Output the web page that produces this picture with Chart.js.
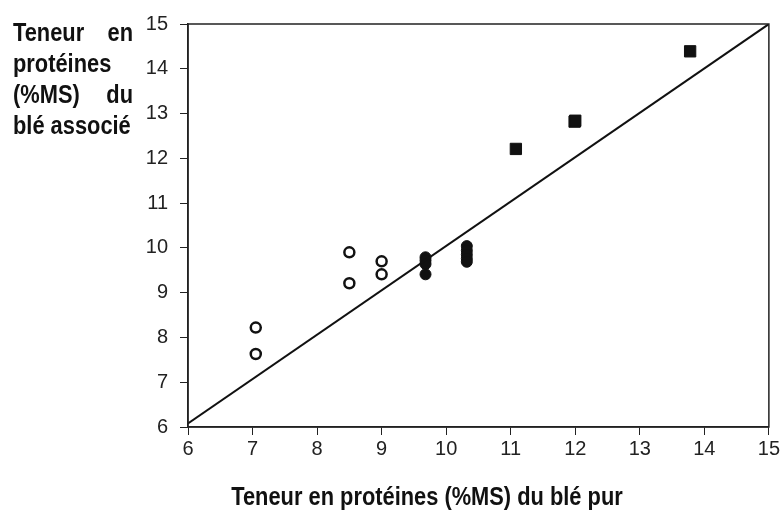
<!DOCTYPE html>
<html>
<head>
<meta charset="utf-8">
<script src="https://cdn.jsdelivr.net/npm/chart.js@4.4.1/dist/chart.umd.min.js"></script>
<style>
  html, body { margin: 0; padding: 0; background: #fff; }
  #wrap { width: 782px; height: 511px; }
</style>
</head>
<body>
<div id="wrap"><canvas id="proteinChart" width="782" height="511"></canvas></div>
<script>
// axis ticks
const xTicks = [6, 7, 8, 9, 10, 11, 12, 13, 14, 15];
const yTicks = [6, 7, 8, 9, 10, 11, 12, 13, 14, 15];

// open circles
const openX = [7.05, 7.05, 8.5, 8.5, 9.0, 9.0];
const openY = [8.22, 7.63, 9.90, 9.21, 9.70, 9.41];

// filled circles
const filledX = [9.68, 9.68, 9.68, 9.68, 10.32, 10.32, 10.32, 10.32, 10.32];
const filledY = [9.79, 9.72, 9.64, 9.41, 10.04, 9.94, 9.85, 9.76, 9.69];

// filled squares
const squareX = [11.08, 11.99, 12.0, 13.78];
const squareY = [12.21, 12.82, 12.84, 14.39];

// reference line
const lineX = [6, 15];
const lineY = [6.08, 15];

const yTitleLines = [['Teneur', 'en'], ['protéines'], ['(%MS)', 'du'], ['blé associé']];
const xTitle = 'Teneur en protéines (%MS) du blé pur';

const toPoints = (xs, ys) => xs.map((x, i) => ({ x: x, y: ys[i] }));

// no narrow font installed, so squeeze the bold one a bit
const titleFont = "bold 26px 'Liberation Sans Narrow', 'Arial Narrow', 'Liberation Sans', sans-serif";
const squeeze = 0.84;

function narrowText(ctx, text, x, y, align) {
  ctx.save();
  ctx.translate(x, y);
  ctx.scale(squeeze, 1);
  ctx.textAlign = align;
  ctx.fillText(text, 0, 0);
  ctx.restore();
}

// frame + axis titles
const decorations = {
  id: 'decorations',
  afterDraw(chart) {
    const ctx = chart.ctx;
    const a = chart.chartArea;
    ctx.save();
    ctx.strokeStyle = '#222';
    ctx.lineWidth = 1.5;
    ctx.strokeRect(a.left, a.top, a.right - a.left, a.bottom - a.top);

    ctx.fillStyle = '#111';
    ctx.font = titleFont;
    ctx.textBaseline = 'alphabetic';
    const left = 13, right = 133;
    const baselines = [41, 72, 103, 134];
    yTitleLines.forEach((words, i) => {
      narrowText(ctx, words[0], left, baselines[i], 'left');
      if (words.length > 1) {
        narrowText(ctx, words[1], right, baselines[i], 'right');
      }
    });

    narrowText(ctx, xTitle, 427, 505, 'center');
    ctx.restore();
  }
};

const ctx = document.getElementById('proteinChart').getContext('2d');
new Chart(ctx, {
  type: 'scatter',
  data: {
    datasets: [
      {
        type: 'line',
        data: toPoints(lineX, lineY),
        borderColor: '#111',
        borderWidth: 2,
        pointRadius: 0,
        fill: false,
      },
      {
        data: toPoints(openX, openY),
        pointStyle: 'circle',
        pointRadius: 5,
        backgroundColor: '#fff',
        borderColor: '#111',
        borderWidth: 2.5,
      },
      {
        data: toPoints(filledX, filledY),
        pointStyle: 'circle',
        pointRadius: 5.5,
        backgroundColor: '#111',
        borderColor: '#111',
        borderWidth: 1,
      },
      {
        data: toPoints(squareX, squareY),
        pointStyle: 'rect',
        pointRadius: 8,
        backgroundColor: '#111',
        borderColor: '#111',
        borderWidth: 1,
      },
    ],
  },
  options: {
    responsive: false,
    animation: false,
    layout: { padding: { top: 22, right: 12, left: 0, bottom: 0 } },
    plugins: {
      legend: { display: false },
      tooltip: { enabled: false },
    },
    scales: {
      x: {
        type: 'linear',
        min: 6,
        max: 15,
        afterBuildTicks: (scale) => { scale.ticks = xTicks.map(v => ({ value: v })); },
        afterFit: (scale) => { scale.height = 84; },
        border: { display: true, color: '#222', width: 1.5 },
        grid: { drawOnChartArea: false, tickLength: 8, color: '#222', lineWidth: 1 },
        ticks: {
          color: '#222',
          padding: 2,
          font: { family: "'Liberation Sans', Arial, sans-serif", size: 20 },
        },
      },
      y: {
        type: 'linear',
        min: 6,
        max: 15,
        afterBuildTicks: (scale) => { scale.ticks = yTicks.map(v => ({ value: v })); },
        afterFit: (scale) => { scale.width = 188; },
        border: { display: true, color: '#222', width: 1.5 },
        grid: { drawOnChartArea: false, tickLength: 8, color: '#222', lineWidth: 1 },
        ticks: {
          color: '#222',
          padding: 12,
          font: { family: "'Liberation Sans', Arial, sans-serif", size: 20 },
        },
      },
    },
  },
  plugins: [decorations],
});
</script>
</body>
</html>
